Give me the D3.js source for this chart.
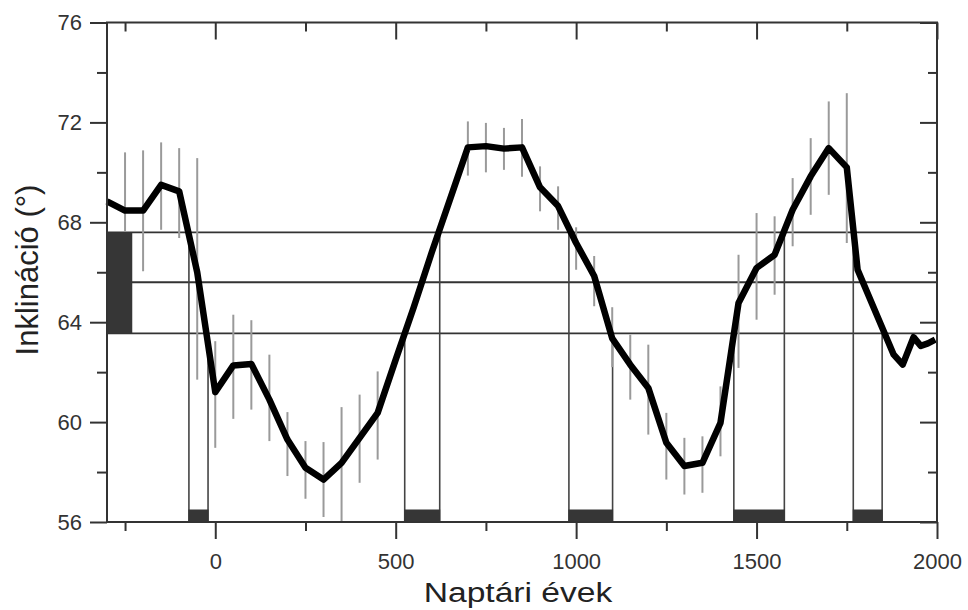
<!DOCTYPE html>
<html>
<head>
<meta charset="utf-8">
<script src="https://cdn.jsdelivr.net/npm/d3@7"></script>
<style>
	body { margin: 0; background: #fff; }
	svg { display: block; font-family: "Liberation Sans", Arial, sans-serif; }
</style>
</head>
<body>
<div id="chart"></div>
<script>
// curve: year -> inclination
const years = [-300,-250,-200,-150,-100,-50,0,50,100,150,200,250,300,350,400,450,500,550,600,650,700,750,800,850,900,950,1000,1050,1100,1150,1200,1250,1300,1350,1400,1450,1500,1550,1600,1650,1700,1750,1780,1880,1905,1935,1955,1975,1995];
const incl = [68.84,68.47,68.47,69.5,69.24,66.0,61.2,62.27,62.33,60.9,59.3,58.17,57.7,58.37,59.37,60.37,62.5,64.6,66.8,68.9,71.0,71.05,70.95,71.0,69.4,68.65,67.17,65.85,63.35,62.3,61.37,59.17,58.24,58.37,59.97,64.77,66.17,66.7,68.5,69.84,70.97,70.2,66.1,62.7,62.3,63.4,63.05,63.15,63.3];

// error bars
const errYears = [-250,-200,-150,-100,-50,0,50,100,150,200,250,300,350,400,450,700,750,800,850,900,950,1000,1050,1100,1150,1200,1250,1300,1350,1400,1450,1500,1550,1600,1650,1700,1750];
const errHi = [70.8,70.88,71.2,70.97,70.57,63.24,64.3,64.08,62.7,60.4,59.24,59.2,60.6,61.1,62.03,72.04,71.98,71.78,72.14,70.24,69.44,67.8,66.65,64.6,63.5,63.1,60.37,59.37,59.43,61.43,66.7,68.37,68.24,69.77,71.37,72.84,73.17];
const errLo = [67.64,66.04,67.7,67.37,61.7,58.97,60.13,60.5,59.24,57.84,56.93,56.2,56.0,57.57,58.5,69.87,70.0,70.1,69.82,68.44,67.7,66.1,64.64,62.2,60.9,59.5,57.7,57.1,57.17,58.63,62.17,64.1,65.1,67.04,68.3,69.1,67.17];

// reference band (lower, mean, upper) and its marker
const bandLevels = [63.55, 65.6, 67.6];
const bandYears = [-300, -230];

// intervals where the curve sits inside the band
const intervalStart = [-73, 525, 980, 1437, 1768];
const intervalEnd = [-20, 622, 1101, 1577, 1848];

const yMajor = [56,60,64,68,72,76];
const yMinor = [58,62,66,70,74];
const xMajor = [0,500,1000,1500,2000];
const xMinor = [-250,250,750,1250,1750];

const margin = {top: 22.5, right: 31, bottom: 88, left: 107};
const width = 968, height = 610;
const w = width - margin.left - margin.right;
const h = height - margin.top - margin.bottom;

let svg = d3.select('#chart').append('svg')
	.attr('width', width)
	.attr('height', height);

svg.append('rect').attr('width', width).attr('height', height).attr('fill', '#fff');

let g = svg.append('g').attr('transform', `translate(${margin.left},${margin.top})`);

let x = d3.scaleLinear().domain([-300, 2000]).range([0, w]);
let y = d3.scaleLinear().domain([56, 76]).range([h, 0]);

// value of the curve at any year
let curveAt = yr => {
	let i = d3.bisectLeft(years, yr);
	if (i <= 0) return incl[0];
	if (i >= years.length) return incl[incl.length - 1];
	let t = (yr - years[i - 1]) / (years[i] - years[i - 1]);
	return incl[i - 1] + t * (incl[i] - incl[i - 1]);
};

//band lines
g.selectAll('.band').data(bandLevels).join('line')
	.attr('x1', 0).attr('x2', w)
	.attr('y1', d => y(d)).attr('y2', d => y(d))
	.attr('stroke', '#333').attr('stroke-width', 1.8);

g.append('rect')
	.attr('x', x(bandYears[0]))
	.attr('width', x(bandYears[1]) - x(bandYears[0]))
	.attr('y', y(bandLevels[2]))
	.attr('height', y(bandLevels[0]) - y(bandLevels[2]))
	.attr('fill', '#363636');

//interval verticals + bottom bars
let intervals = intervalStart.map((s, i) => ({s: s, e: intervalEnd[i]}));
let edges = intervals.flatMap(d => [d.s, d.e]);

g.selectAll('.vline').data(edges).join('line')
	.attr('x1', d => x(d)).attr('x2', d => x(d))
	.attr('y1', y(56)).attr('y2', d => y(curveAt(d)))
	.attr('stroke', '#444').attr('stroke-width', 1.6);

g.selectAll('.ibar').data(intervals).join('rect')
	.attr('x', d => x(d.s))
	.attr('width', d => x(d.e) - x(d.s))
	.attr('y', h - 12)
	.attr('height', 12)
	.attr('fill', '#363636')
	.attr('stroke', '#363636');

//error bars
g.selectAll('.err').data(errYears).join('line')
	.attr('x1', d => x(d)).attr('x2', d => x(d))
	.attr('y1', (d, i) => y(errLo[i])).attr('y2', (d, i) => y(errHi[i]))
	.attr('stroke', '#9a9a9a').attr('stroke-width', 2);

//curve
let line = d3.line()
	.x((d, i) => x(years[i]))
	.y(d => y(d));

g.append('path')
	.datum(incl)
	.attr('d', line)
	.attr('fill', 'none')
	.attr('stroke', '#000')
	.attr('stroke-width', 6.5)
	.attr('stroke-linejoin', 'round');

//axes
let styleAxis = sel => {
	sel.select('.domain').remove();
	sel.selectAll('line').attr('stroke', '#333').attr('stroke-width', 2);
	sel.selectAll('text').attr('fill', '#333').attr('font-size', 22).attr('font-family', '"Liberation Sans", Arial, sans-serif');
};

g.append('g').call(d3.axisLeft(y).tickValues(yMajor).tickSize(17).tickPadding(8).tickFormat(d3.format('d'))).call(styleAxis);
g.append('g').call(d3.axisLeft(y).tickValues(yMinor).tickSize(10).tickFormat('')).call(styleAxis);
g.append('g').attr('transform', `translate(${w},0)`).call(d3.axisRight(y).tickValues(yMajor).tickSize(-17).tickFormat('')).call(styleAxis);
g.append('g').attr('transform', `translate(${w},0)`).call(d3.axisRight(y).tickValues(yMinor).tickSize(-9).tickFormat('')).call(styleAxis);

g.append('g').attr('transform', `translate(0,${h})`).call(d3.axisBottom(x).tickValues(xMajor).tickSize(17).tickPadding(14).tickFormat(d3.format('d'))).call(styleAxis);
g.append('g').attr('transform', `translate(0,${h})`).call(d3.axisBottom(x).tickValues(xMinor).tickSize(9).tickFormat('')).call(styleAxis);
g.append('g').call(d3.axisTop(x).tickValues(xMajor).tickSize(-17).tickFormat('')).call(styleAxis);
g.append('g').call(d3.axisTop(x).tickValues(xMinor).tickSize(-9).tickFormat('')).call(styleAxis);

//frame
g.append('rect')
	.attr('width', w).attr('height', h)
	.attr('fill', 'none')
	.attr('stroke', '#333').attr('stroke-width', 2);

//titles
svg.append('text')
	.attr('transform', 'translate(518,602) scale(1.2,1)')
	.attr('text-anchor', 'middle')
	.attr('font-size', 28)
	.attr('fill', '#222')
	.text('Naptári évek');

svg.append('text')
	.attr('transform', 'translate(38,270) rotate(-90)')
	.attr('text-anchor', 'middle')
	.attr('font-size', 31)
	.attr('fill', '#222')
	.text('Inklináció (°)');
</script>
</body>
</html>
